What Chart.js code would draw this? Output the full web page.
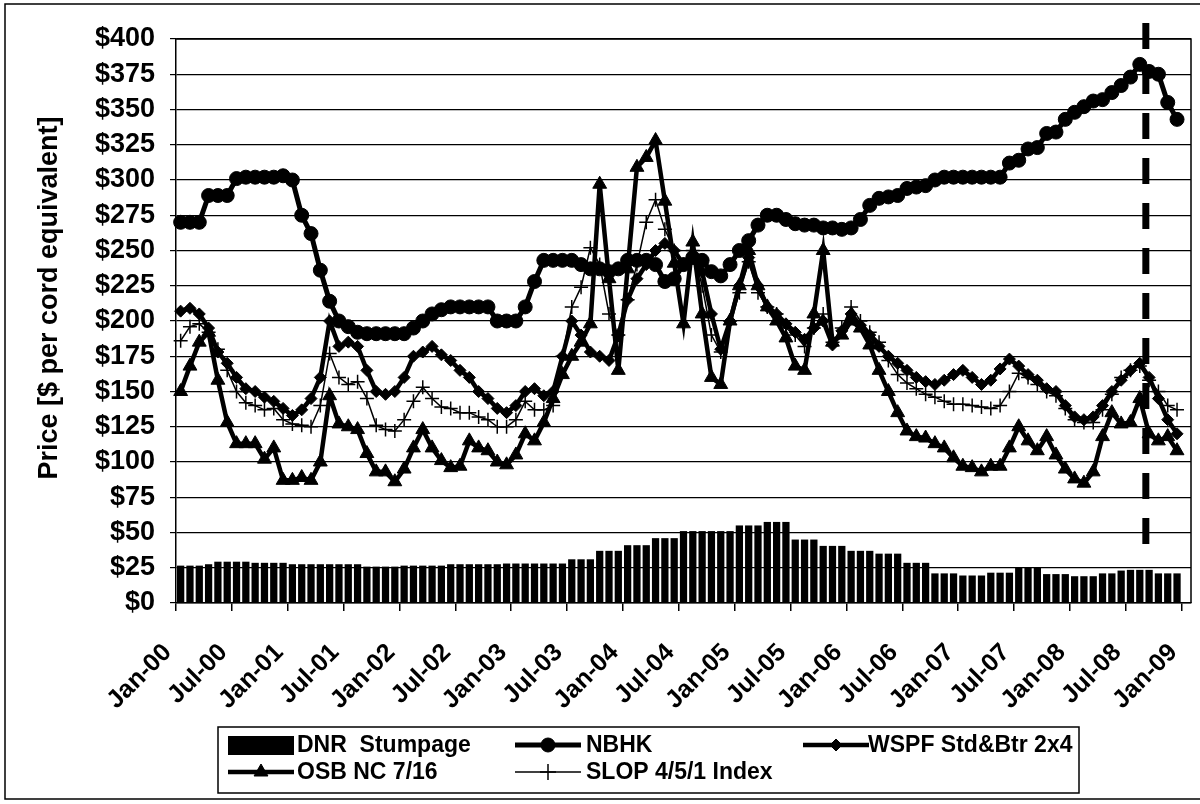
<!DOCTYPE html>
<html>
<head>
<meta charset="utf-8">
<script src="https://cdn.jsdelivr.net/npm/chart.js@4/dist/chart.umd.min.js"></script>
<style>
html,body{margin:0;padding:0;background:#fff;}
#wrap{width:1200px;height:804px;position:relative;}
</style>
</head>
<body>
<div id="wrap"><canvas id="c" width="1200" height="804"></canvas></div>
<script>
// ---------- categories ----------
const monthNames = ['Jan','Feb','Mar','Apr','May','Jun','Jul','Aug','Sep','Oct','Nov','Dec'];
const yearCodes = ['00','01','02','03','04','05','06','07','08'];
const monthLabels = [];
for (const yc of yearCodes) for (const m of monthNames) monthLabels.push(m + '-' + yc);
monthLabels.push('Jan-09');

const tickLabels = ['Jan-00','Jul-00','Jan-01','Jul-01','Jan-02','Jul-02','Jan-03','Jul-03','Jan-04','Jul-04',
  'Jan-05','Jul-05','Jan-06','Jul-06','Jan-07','Jul-07','Jan-08','Jul-08','Jan-09'];

// ---------- series (Jan-00 .. Dec-08, $ per cord equivalent) ----------
const dnrStumpage = [
  26.5,26.5,26.5,27.5,29.3,29.3,29.3,29.3,28.5,28.5,28.5,28.5,
  27.5,27.5,27.5,27.5,27.5,27.5,27.5,27.5,25.8,25.8,25.8,25.8,
  26.5,26.5,26.5,26.5,26.5,27.5,27.5,27.5,27.5,27.5,27.5,28,
  28,28,28,28,28,28,31,31,31,37,37,37,
  41,41,41,46,46,46,51,51,51,51,51,51,
  55,55,55,57.5,57.5,57.5,45,45,45,40.5,40.5,40.5,
  37,37,37,35,35,35,28.5,28.5,28.5,21,21,21,
  19.5,19.5,19.5,21.5,21.5,21.5,25.5,25.5,25.5,20.5,20.5,20.5,
  19,19,19,21,21,23,23.5,23.5,23.5,21,21,21
];
const nbhk = [
  270,270,270,289,289,289,301,302,302,302,302,303,
  300,275,262,236,214,200,196,192,191,191,191,191,
  191,195,200,205,208,210,210,210,210,210,200,200,
  200,210,228,243,243,243,243,240,237,237,235,237,
  243,243,243,240,228,230,240,245,243,235,232,240,
  250,257,268,275,275,272,269,268,268,266,266,265,
  266,272,282,287,288,289,294,295,296,300,302,302,
  302,302,302,302,302,312,314,322,323,333,334,343,
  348,352,356,357,362,367,373,382,377,375,355,343
];
const wspf = [
  207,209,205,195,178,170,160,152,150,146,143,138,
  133,137,145,160,200,182,185,182,165,150,148,150,
  160,175,178,182,176,172,165,160,150,145,138,135,
  140,150,152,147,150,175,200,190,178,175,172,190,
  215,230,240,250,255,250,240,245,235,205,180,200,
  225,245,225,210,205,198,192,187,195,200,183,193,
  205,197,190,182,175,170,165,160,157,155,158,162,
  165,160,155,158,166,173,168,162,158,152,150,140,
  132,130,132,140,150,158,165,170,160,145,130,120
];
const osb = [
  150,168,185,192,158,128,113,113,113,102,110,87,
  87,89,87,100,147,127,125,123,106,93,93,86,
  95,110,123,110,101,96,97,115,110,108,100,98,
  105,120,115,128,145,162,175,185,198,297,230,165,
  237,309,316,328,285,241,198,256,205,160,155,200,
  225,250,225,210,200,188,168,165,205,250,185,190,
  200,195,183,165,150,135,122,118,117,113,110,103,
  97,96,93,97,97,110,125,115,108,118,105,95,
  88,85,93,118,135,127,128,145,120,115,118,108
];
const slop = [
  186,196,198,192,180,165,150,142,140,137,138,130,
  127,126,125,140,177,160,155,157,145,126,123,122,
  130,143,153,145,139,138,135,135,132,130,125,125,
  130,143,137,137,140,175,210,224,252,240,205,190,
  215,240,270,286,265,250,240,250,225,190,178,200,
  220,242,220,210,205,195,190,182,195,205,185,195,
  210,200,192,185,172,162,156,152,148,146,143,141,
  141,140,139,138,140,150,163,160,155,150,147,138,
  130,128,128,137,148,160,165,168,158,150,140,137
];

const dividerMonth = 'Sep-08';
const yTitle = 'Price [$ per cord equivalent]';
const seriesNames = ['DNR  Stumpage','NBHK','WSPF Std&Btr 2x4','OSB NC 7/16','SLOP 4/5/1 Index'];

const FONT = '"Liberation Sans", Arial, sans-serif';
Chart.defaults.font.family = FONT;

const decor = {
  id: 'decor',
  beforeDraw(chart) {
    const c = chart.ctx;
    c.save(); c.fillStyle = '#fff'; c.fillRect(0, 0, chart.width, chart.height); c.restore();
  },
  afterDatasetsDraw(chart) {
    const {ctx, chartArea: a, scales: {x, y}} = chart;
    ctx.save();
    ctx.strokeStyle = '#000'; ctx.lineWidth = 1.5;
    ctx.beginPath();
    ctx.moveTo(a.left, a.top); ctx.lineTo(a.right, a.top); ctx.lineTo(a.right, a.bottom);
    ctx.stroke();
    const idx = monthLabels.indexOf(dividerMonth);
    const dx = x.getPixelForValue(idx - 0.35);
    ctx.setLineDash([26, 19]);
    ctx.lineWidth = 7;
    ctx.beginPath();
    ctx.moveTo(dx, a.top - 16);
    ctx.lineTo(dx, y.getPixelForValue(39));
    ctx.stroke();
    ctx.restore();
  },
  afterDraw(chart) {
    const {ctx} = chart;
    const H = Chart.helpers;
    ctx.save();
    ctx.fillStyle = '#000'; ctx.strokeStyle = '#000';
    ctx.save();
    ctx.translate(50, 298);
    ctx.rotate(-Math.PI / 2);
    ctx.font = 'bold 27px ' + FONT;
    ctx.textAlign = 'center'; ctx.textBaseline = 'middle';
    ctx.fillText(yTitle, 0, 0);
    ctx.restore();

    const lx = 218, ly = 727, lw = 861, lh = 66;
    ctx.lineWidth = 1.5;
    ctx.strokeRect(lx, ly, lw, lh);
    const symX = [228, 515, 803], txtX = [297, 586, 868], rows = [745, 772];
    const symW = 66;
    ctx.font = 'bold 23px ' + FONT;
    ctx.textBaseline = 'middle'; ctx.textAlign = 'left';
    const items = [
      {col:0,row:0,kind:'bar'},
      {col:1,row:0,kind:'line',lw:5,ps:'circle',r:7},
      {col:2,row:0,kind:'line',lw:4.5,ps:'rectRot',r:6},
      {col:0,row:1,kind:'line',lw:4.5,ps:'triangle',r:8},
      {col:1,row:1,kind:'line',lw:1.5,ps:'cross',r:8}
    ];
    items.forEach((it, k) => {
      const sx = symX[it.col], cy = rows[it.row];
      if (it.kind === 'bar') {
        ctx.fillRect(sx, cy - 9, symW, 19);
      } else {
        ctx.lineWidth = it.lw;
        ctx.beginPath(); ctx.moveTo(sx, cy); ctx.lineTo(sx + symW, cy); ctx.stroke();
        ctx.lineWidth = it.ps === 'cross' ? 1.5 : 1;
        H.drawPoint(ctx, {pointStyle: it.ps, radius: it.r, rotation: 0, borderWidth: ctx.lineWidth}, sx + symW / 2, cy);
      }
      ctx.fillText(seriesNames[k], txtX[it.col], cy + 1);
    });

    ctx.lineWidth = 1.5;
    ctx.strokeRect(5, 4, 1210, 795);
    ctx.restore();
  }
};

const xTickFont = {family: FONT, weight: 'bold', size: 25};
const yTickFont = {family: FONT, weight: 'bold', size: 27};

new Chart(document.getElementById('c'), {
  data: {
    labels: monthLabels,
    datasets: [
      {type:'bar', label: seriesNames[0], data: dnrStumpage, backgroundColor:'#000', borderWidth:0,
       barPercentage:0.78, categoryPercentage:1.0, order:10},
      {type:'line', label: seriesNames[1], data: nbhk, borderColor:'#000', backgroundColor:'#000', borderWidth:5,
       pointStyle:'circle', pointRadius:7, pointBorderWidth:1, pointBackgroundColor:'#000', pointBorderColor:'#000', tension:0, order:4},
      {type:'line', label: seriesNames[2], data: wspf, borderColor:'#000', backgroundColor:'#000', borderWidth:4.5,
       pointStyle:'rectRot', pointRadius:6, pointBorderWidth:1, pointBackgroundColor:'#000', pointBorderColor:'#000', tension:0, order:3},
      {type:'line', label: seriesNames[3], data: osb, borderColor:'#000', backgroundColor:'#000', borderWidth:4.5,
       pointStyle:'triangle', pointRadius:8, pointBorderWidth:1, pointBackgroundColor:'#000', pointBorderColor:'#000', tension:0, order:2},
      {type:'line', label: seriesNames[4], data: slop, borderColor:'#000', backgroundColor:'#000', borderWidth:1.5,
       pointStyle:'cross', pointRadius:7, pointBorderWidth:1.5, pointBorderColor:'#000', tension:0, order:1}
    ]
  },
  options: {
    responsive: false,
    animation: false,
    devicePixelRatio: 1,
    layout: {padding: {top: 39, right: 5, left: 0, bottom: 0}},
    plugins: {legend: {display: false}, tooltip: {enabled: false}},
    scales: {
      x: {
        type: 'category',
        offset: true,
        grid: {
          offset: true, drawOnChartArea: false, drawTicks: true, tickLength: 8, lineWidth: 1.5,
          color: (c) => (c.index % 6 === 0 ? '#000' : 'rgba(0,0,0,0)')
        },
        border: {display: true, color: '#000', width: 1.5},
        ticks: {
          autoSkip: false, maxRotation: 45, minRotation: 45, padding: 27, labelOffset: -13,
          font: xTickFont, color: '#000',
          callback: (v, i) => (tickLabels.includes(monthLabels[i]) ? monthLabels[i] : '')
        },
        afterFit: (s) => { s.height = 201; s.paddingLeft = 0; s.paddingRight = 0; }
      },
      y: {
        min: 0, max: 400,
        ticks: {stepSize: 25, autoSkip: false, callback: (v) => '$' + v, font: yTickFont, color: '#000', padding: 15},
        grid: {color: '#000', lineWidth: 1.2, tickLength: 6, drawTicks: true},
        border: {display: true, color: '#000', width: 1.5},
        afterFit: (s) => { s.width = 176; s.paddingTop = 0; s.paddingBottom = 0; }
      }
    }
  },
  plugins: [decor]
});
</script>
</body>
</html>
